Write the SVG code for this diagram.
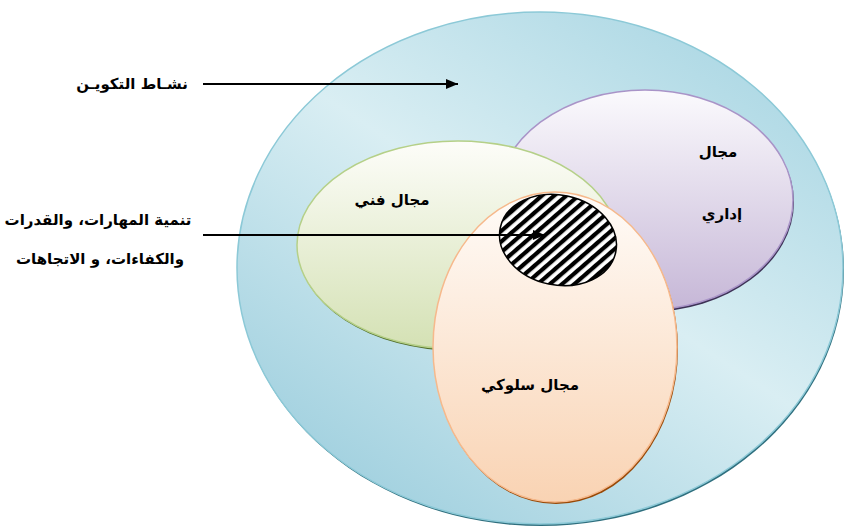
<svg xmlns="http://www.w3.org/2000/svg" width="844" height="528" viewBox="0 0 844 528">
<defs>
<linearGradient id="gBlue" gradientUnits="userSpaceOnUse" x1="720" y1="1" x2="390" y2="499">
<stop offset="0" stop-color="#a9d6e3"/>
<stop offset="0.5" stop-color="#d9eef3"/>
<stop offset="1" stop-color="#a4d2e0"/>
</linearGradient>
<linearGradient id="gPurple" x1="0" y1="0" x2="0" y2="1">
<stop offset="0" stop-color="#fbfafd"/>
<stop offset="1" stop-color="#c6b7d7"/>
</linearGradient>
<linearGradient id="gGreen" x1="0" y1="0" x2="0" y2="1">
<stop offset="0" stop-color="#fdfdf9"/>
<stop offset="1" stop-color="#d4e1b4"/>
</linearGradient>
<linearGradient id="gOrange" x1="0" y1="0" x2="0" y2="1">
<stop offset="0" stop-color="#fffcf9"/>
<stop offset="1" stop-color="#f9d3b3"/>
</linearGradient>
<pattern id="hatch" width="8" height="8" patternUnits="userSpaceOnUse" patternTransform="rotate(37)">
<rect width="8" height="8" fill="#ffffff"/>
<rect width="4.2" height="8" fill="#000000"/>
</pattern>
<marker id="arrow" markerWidth="12" markerHeight="10" refX="12" refY="5" orient="auto" markerUnits="userSpaceOnUse">
<path d="M0,0 L12,5 L0,10 Z" fill="#000"/>
</marker>
<style>
.lbl{font-family:"DejaVu Sans","Noto Sans",sans-serif;font-weight:bold;font-size:15px;fill:#000;text-anchor:middle}
.conn{stroke:#000;stroke-width:2;fill:none}
</style>
</defs>

<g id="node-takwin">
<ellipse cx="541" cy="270" rx="303" ry="256" fill="#2f6f7e"/>
<ellipse cx="540" cy="268" rx="303" ry="256" fill="url(#gBlue)" stroke="#8cc9d7" stroke-width="1.5"/>
</g>

<g id="node-idari">
<ellipse cx="646" cy="202" rx="148" ry="110" fill="#3d3256"/>
<ellipse cx="645" cy="200" rx="148" ry="110" fill="url(#gPurple)" stroke="#a994c8" stroke-width="1.5"/>
<text class="lbl" x="718" y="157">مجال</text>
<text class="lbl" x="722" y="219">إداري</text>
</g>

<g id="node-fanni">
<ellipse cx="459" cy="247" rx="161" ry="104" fill="#4f6b27"/>
<ellipse cx="458" cy="245" rx="161" ry="104" fill="url(#gGreen)" stroke="#b5d088" stroke-width="1.5"/>
<text class="lbl" x="392" y="205">مجال فني</text>
</g>

<g id="node-suluki">
<ellipse cx="556" cy="349" rx="122" ry="155" fill="#984806"/>
<ellipse cx="555" cy="347" rx="122" ry="155" fill="url(#gOrange)" stroke="#f6b98c" stroke-width="1.5"/>
<text class="lbl" x="530" y="390">مجال سلوكي</text>
</g>

<g id="node-intersection">
<ellipse cx="558" cy="240" rx="59" ry="45" transform="rotate(12 558 240)" fill="url(#hatch)" stroke="#000" stroke-width="1.5"/>
</g>

<g id="connectors">
<line class="conn" x1="203" y1="84" x2="458" y2="84" marker-end="url(#arrow)"/>
<line class="conn" x1="203" y1="235" x2="545" y2="235" marker-end="url(#arrow)"/>
</g>

<g id="labels">
<text class="lbl" x="132" y="89">نشـاط التكويـن</text>
<text class="lbl" x="98" y="225">تنمية المهارات، والقدرات</text>
<text class="lbl" x="100" y="264">والكفاءات، و الاتجاهات</text>
</g>
</svg>
